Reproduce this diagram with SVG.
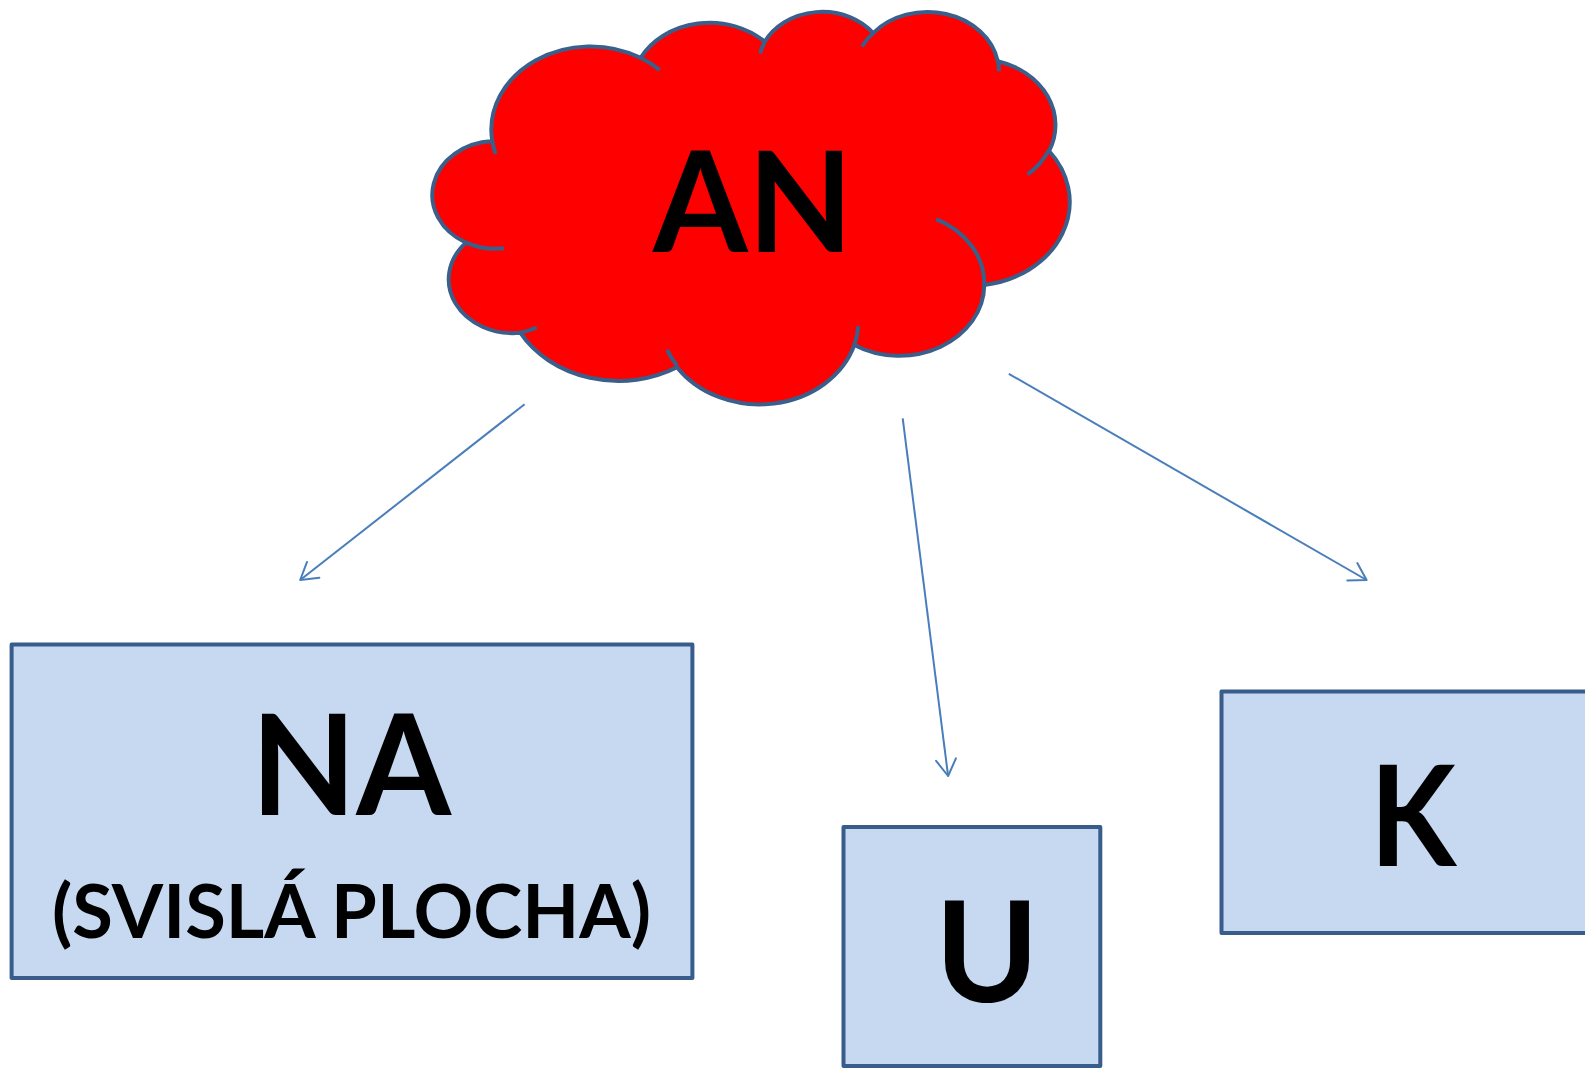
<svg xmlns="http://www.w3.org/2000/svg" width="1585" height="1068" viewBox="0 0 1585 1068">
<defs>
<style>
.box{fill:#C6D9F1;stroke:#385D8A;stroke-width:4;stroke-linejoin:round}
.cloud{fill:#FF0000;stroke:#3A5F8B;stroke-width:4;vector-effect:non-scaling-stroke}
.cin{fill:none;stroke:#3A5F8B;stroke-width:4;vector-effect:non-scaling-stroke}
.lbl{font-family:Lato,"Open Sans","Liberation Sans",sans-serif;font-weight:bold;fill:#000;text-anchor:middle}
.big{font-size:140px}
.sub{font-size:74px}
.conn{fill:none;stroke:#4A7EBB;stroke-width:2;marker-end:url(#arr)}
</style>
<marker id="arr" markerUnits="userSpaceOnUse" markerWidth="24" markerHeight="24" refX="16.5" refY="10" orient="auto" overflow="visible">
<path d="M0,0 L16.5,10 L0,20" fill="none" stroke="#4A7EBB" stroke-width="2" stroke-linecap="round" stroke-linejoin="round"/>
</marker>
</defs>
<rect width="1585" height="1068" fill="#FFFFFF"/>
<g id="connectors">
<line class="conn" x1="524.6" y1="404.2" x2="300.2" y2="580"/>
<line class="conn" x1="902.7" y1="418.3" x2="948.1" y2="776"/>
<line class="conn" x1="1008.8" y1="373.8" x2="1366.6" y2="580"/>
</g>
<g id="node-AN">
<g transform="translate(435,10.6) scale(0.014685,0.009082)">
<path class="cloud" d="M3900,14370 A6753,9190 0 0 1 14005,5202 A5333,7267 0 0 1 22456,3432 A4365,5945 0 0 1 29833,2481 A4857,6595 0 0 1 38319,5576 A5333,7273 0 0 1 41819,15459 A6775,9220 0 0 1 37404,30203 A5785,7867 0 0 1 28556,36813 A6752,9215 0 0 1 16480,39264 A7720,10543 0 0 1 5805,35470 A4360,5918 0 0 1 2113,25548 A4345,5945 0 0 1 3900,14370 Z"/>
<path class="cin" d="M4693,26177 A4345,5945 0 0 1 2113,25548 M6928,34899 A4360,5918 0 0 1 5805,35470 M16478,39090 A6752,9215 0 0 1 15810,37350 M28827,34751 A6752,9215 0 0 1 28556,36813 M34129,22954 A5785,7867 0 0 1 37404,30203 M41798,15354 A5333,7273 0 0 1 40350,18030 M38324,5426 A4857,6595 0 0 1 38400,6690 M29078,3952 A4857,6595 0 0 1 29833,2481 M22141,4720 A4365,5945 0 0 1 22456,3432 M14000,5192 A6753,9190 0 0 1 15300,6540 M4127,15789 A6753,9190 0 0 1 3900,14370"/>
</g>
<text class="lbl big" transform="translate(753,252) scale(0.975,1)">AN</text>
</g>
<g id="node-NA">
<rect class="box" x="11.6" y="644.6" width="680.8" height="333.5"/>
<text class="lbl big" transform="translate(351,815) scale(0.975,1)">NA</text>
<text class="lbl sub" x="351.5" y="937.5">(SVISLÁ PLOCHA)</text>
</g>
<g id="node-U">
<rect class="box" x="843.5" y="827" width="256.8" height="239"/>
<text class="lbl big" x="987" y="1002">U</text>
</g>
<g id="node-K">
<rect class="box" x="1221.5" y="691.6" width="420" height="241.5"/>
<text class="lbl big" transform="translate(1413,866) scale(0.9,1)">K</text>
</g>
</svg>
